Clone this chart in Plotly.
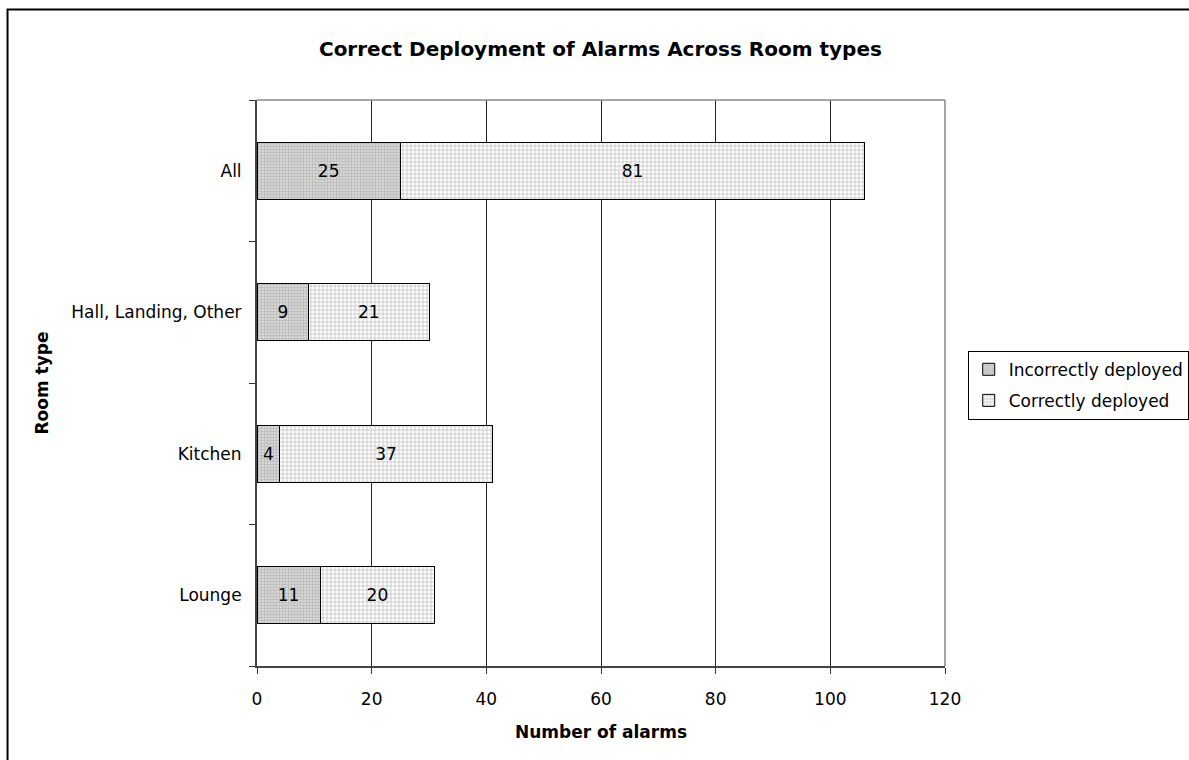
import plotly.graph_objects as go

# Room types, bottom to top on the category axis
rooms = ["Lounge", "Kitchen", "Hall, Landing, Other", "All"]
incorrect = [11, 4, 9, 25]
correct = [20, 37, 21, 81]
x_ticks = [0, 20, 40, 60, 80, 100, 120]

FONT = "DejaVu Sans, Arial, sans-serif"

fig = go.Figure()
fig.add_trace(go.Bar(
    y=rooms, x=incorrect, orientation="h", name="Incorrectly deployed",
    legendgroup="inc",
    text=incorrect, textposition="inside", insidetextanchor="middle",
    textfont=dict(color="black", size=17, family=FONT),
    marker=dict(color="#c8c8c8", line=dict(color="black", width=1),
                pattern=dict(shape="+", size=3, solidity=0.4,
                             fgcolor="#999999", bgcolor="#d6d6d6")),
    width=0.4,
))
fig.add_trace(go.Bar(
    y=rooms, x=correct, orientation="h", name="Correctly deployed",
    legendgroup="cor",
    text=correct, textposition="inside", insidetextanchor="middle",
    textfont=dict(color="black", size=17, family=FONT),
    marker=dict(color="white", line=dict(color="black", width=1),
                pattern=dict(shape="+", size=4, solidity=0.35,
                             fgcolor="#808080", bgcolor="white")),
    width=0.4,
))

fig.update_layout(
    width=1189, height=760,
    margin=dict(l=257, r=244, t=100, b=94, autoexpand=False),
    barmode="stack",
    paper_bgcolor="white", plot_bgcolor="white",
    font=dict(family=FONT, size=17, color="black"),
    title=dict(text="<b>Correct Deployment of Alarms Across Room types</b>",
               x=0.505, xanchor="center", y=0.936, yanchor="middle",
               font=dict(size=20, family=FONT)),
    showlegend=True,
    legend=dict(x=1.033, xanchor="left", y=0.557, yanchor="top",
                traceorder="grouped", bordercolor="black", borderwidth=1,
                bgcolor="white", font=dict(size=17, family=FONT),
                itemwidth=30, tracegroupgap=6),
    xaxis=dict(range=[0, 120], tickvals=x_ticks, ticks="outside", ticklen=6,
               tickcolor="#333", showgrid=True, gridcolor="#222", gridwidth=1,
               showline=True, linecolor="#444", linewidth=2, mirror=False,
               zeroline=False, ticklabelstandoff=11,
               title=dict(text="<b>Number of alarms</b>", standoff=18,
                          font=dict(size=17, family=FONT))),
    yaxis=dict(categoryorder="array", categoryarray=rooms,
               tickson="boundaries", ticks="outside", ticklen=6,
               tickcolor="#333", showgrid=False, showline=True,
               linecolor="#444", linewidth=2, ticklabelstandoff=10,
               title=dict(text="<b>Room type</b>", standoff=18,
                          font=dict(size=17, family=FONT))),
    shapes=[
        # gray top and right edges of the plotting area
        dict(type="line", xref="paper", yref="paper", x0=0, x1=1, y0=1, y1=1,
             line=dict(color="#888", width=1.5)),
        dict(type="line", xref="paper", yref="paper", x0=1, x1=1, y0=0, y1=1,
             line=dict(color="#888", width=1.5)),
        # outer chart frame
        dict(type="rect", xref="paper", yref="paper",
             x0=-0.3626, x1=1.6, y0=-0.5, y1=1.1599,
             line=dict(color="black", width=2), layer="below"),
    ],
)

fig.write_html("out.html")
